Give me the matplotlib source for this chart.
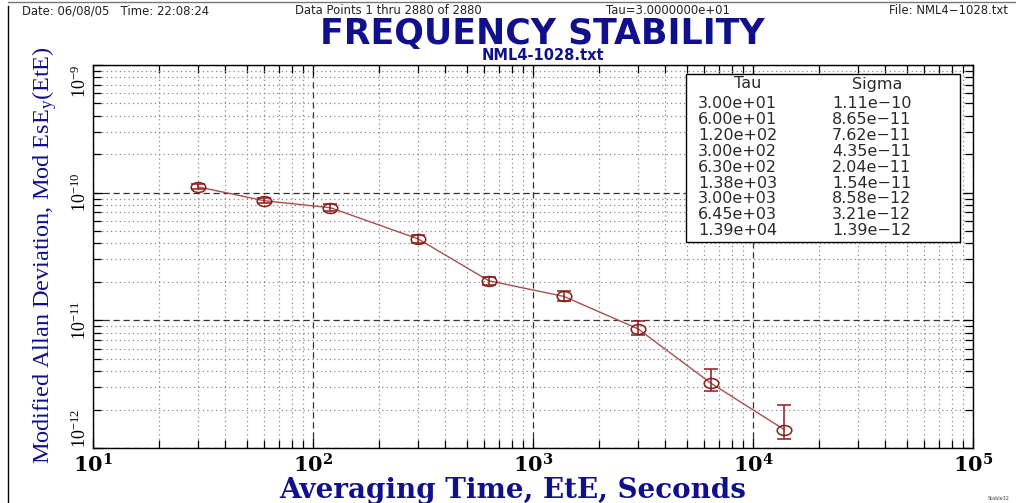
import matplotlib
matplotlib.use("Agg")
import matplotlib.pyplot as plt
import numpy as np
from matplotlib.path import Path
from matplotlib.transforms import Affine2D
from matplotlib.patches import Rectangle
from matplotlib.lines import Line2D
from matplotlib.ticker import LogLocator, FixedLocator, NullFormatter

# ---- data ----
tau = [30, 60, 120, 300, 630, 1380, 3000, 6450, 13900]
sigma = [1.11e-10, 8.65e-11, 7.62e-11, 4.35e-11, 2.04e-11, 1.54e-11, 8.58e-12, 3.21e-12, 1.39e-12]
sigma_lo = [1.06e-10, 8.3e-11, 7.2e-11, 4.05e-11, 1.9e-11, 1.42e-11, 7.7e-12, 2.80e-12, 1.18e-12]
sigma_hi = [1.17e-10, 9.1e-11, 8.1e-11, 4.7e-11, 2.2e-11, 1.70e-11, 9.9e-12, 4.16e-12, 2.18e-12]
tau_labels = ["3.00e+01", "6.00e+01", "1.20e+02", "3.00e+02", "6.30e+02",
              "1.38e+03", "3.00e+03", "6.45e+03", "1.39e+04"]
sigma_labels = ["1.11e\u221210", "8.65e\u221211", "7.62e\u221211", "4.35e\u221211", "2.04e\u221211",
                "1.54e\u221211", "8.58e\u221212", "3.21e\u221212", "1.39e\u221212"]
xticks = [1e1, 1e2, 1e3, 1e4, 1e5]
xtick_labels = [r"$\mathbf{10^{1}}$", r"$\mathbf{10^{2}}$", r"$\mathbf{10^{3}}$",
                r"$\mathbf{10^{4}}$", r"$\mathbf{10^{5}}$"]
yticks = [1e-12, 1e-11, 1e-10, 1e-9]
ytick_labels = [r"$\mathregular{10^{-12}}$", r"$\mathregular{10^{-11}}$",
                r"$\mathregular{10^{-10}}$", r"$\mathregular{10^{-9}}$"]

plt.rcParams["mathtext.fontset"] = "dejavuserif"

W, H = 1016, 503
fig = plt.figure(figsize=(W / 100, H / 100), dpi=100)
fig.patch.set_facecolor("white")

def fx(px):
    return px / W

def fy(py):
    return 1 - py / H

L, R, T, B = 93, 973, 65, 448
ax = fig.add_axes([fx(L), fy(B), fx(R) - fx(L), fy(T) - fy(B)])
ax.set_xscale("log")
ax.set_yscale("log")
ax.set_xlim(1e1, 1e5)
ax.set_ylim(1e-12, 1e-9)

navy = "#10108c"
line_col = "#a8504e"
mark_col = "#8c1c1c"

# grid
ax.grid(True, which="major", color="#333333", linestyle=(0, (5, 3)), linewidth=0.9)
ax.grid(True, which="minor", color="#8a8a8a", linestyle=(0, (1, 2.5)), linewidth=0.9)
ax.set_axisbelow(True)

ax.xaxis.set_major_locator(FixedLocator(xticks))
ax.yaxis.set_major_locator(FixedLocator(yticks))
ax.xaxis.set_minor_locator(LogLocator(base=10, subs=np.arange(2, 10)))
ax.yaxis.set_minor_locator(LogLocator(base=10, subs=np.arange(2, 10)))
ax.xaxis.set_minor_formatter(NullFormatter())
ax.yaxis.set_minor_formatter(NullFormatter())
ax.set_xticklabels(xtick_labels)
ax.set_yticklabels(ytick_labels)
ax.tick_params(which="both", direction="in", top=True, right=True, color="black", width=0.9)
ax.tick_params(which="major", length=7)
ax.tick_params(which="minor", length=6)
for lab in ax.get_xticklabels():
    lab.set_fontsize(15)
    lab.set_color("black")
ax.tick_params(axis="x", pad=4)
ylabs = ax.get_yticklabels()
for lab in ylabs:
    lab.set_rotation(90)
    lab.set_fontsize(13)
    lab.set_family("Liberation Serif")
    lab.set_va("center")
ylabs[0].set_va("bottom")
ylabs[-1].set_va("top")
ax.tick_params(axis="y", pad=2)
for s in ax.spines.values():
    s.set_linewidth(1.0)
    s.set_color("black")

# data
ax.plot(tau, sigma, color=line_col, linewidth=1.0, zorder=3)
ell = Path.unit_circle().transformed(Affine2D().scale(1.0, 0.68))
yerr = [np.array(sigma) - np.array(sigma_lo), np.array(sigma_hi) - np.array(sigma)]
ax.errorbar(tau, sigma, yerr=yerr, fmt="none", ecolor=mark_col, elinewidth=1.1,
            capsize=5, capthick=1.1, zorder=4)
ax.plot(tau, sigma, linestyle="none", marker=ell, markersize=10.5,
        markerfacecolor="none", markeredgecolor=mark_col, markeredgewidth=1.1, zorder=5)

# labels
fig.text(fx(513), fy(491), "Averaging Time, EtE, Seconds", ha="center", va="center",
         fontsize=20, fontweight="bold", family="DejaVu Serif", color=navy)
fig.text(fx(45), fy(255), r"Modified Allan Deviation, Mod EsE$_\mathregular{y}$(EtE)",
         rotation=90, ha="center", va="center", fontsize=17.5, family="Liberation Serif",
         color=navy)

# title & header
fig.text(fx(542), fy(44), "FREQUENCY STABILITY", ha="center", va="baseline",
         fontsize=25, fontweight="bold", family="DejaVu Sans", color=navy)
fig.text(fx(543), fy(60), "NML4-1028.txt", ha="center", va="baseline",
         fontsize=10.5, fontweight="bold", family="DejaVu Sans", color=navy)
hdr = dict(fontsize=8.4, family="DejaVu Sans", color="#222222", va="center")
fig.text(fx(22), fy(11), "Date: 06/08/05   Time: 22:08:24", ha="left", **hdr)
fig.text(fx(295), fy(11), "Data Points 1 thru 2880 of 2880", ha="left", **hdr)
fig.text(fx(606), fy(11), "Tau=3.0000000e+01", ha="left", **hdr)
fig.text(fx(1008), fy(11), "File: NML4\u22121028.txt", ha="right", **hdr)
fig.text(fx(1010), fy(498), "Stable32", ha="right", va="center", fontsize=3.5, color="#444444")

# table box
bx0, by0, bx1, by1 = 686, 74, 960, 242
fig.patches.append(Rectangle((fx(bx0), fy(by1)), fx(bx1) - fx(bx0), fy(by0) - fy(by1),
                             transform=fig.transFigure, facecolor="white",
                             edgecolor="black", linewidth=1.0, zorder=10))
tb = dict(fontsize=11.5, family="DejaVu Sans", color="#2a2a2a", va="center", zorder=11)
fig.text(fx(748), fy(84), "Tau", ha="center", **tb)
fig.text(fx(877), fy(84), "Sigma", ha="center", **tb)
for i, (tl, sl) in enumerate(zip(tau_labels, sigma_labels)):
    yy = 104 + i * 15.8
    fig.text(fx(698), fy(yy), tl, ha="left", **tb)
    fig.text(fx(832), fy(yy), sl, ha="left", **tb)

# frame lines of the page
fig.add_artist(Line2D([fx(8), fx(8)], [fy(6), 0], color="black", linewidth=1.0,
                      transform=fig.transFigure))
fig.add_artist(Line2D([fx(8), 1], [fy(2), fy(2)], color="#777777", linewidth=1.0,
                      transform=fig.transFigure))

fig.savefig("out.png", dpi=100)
